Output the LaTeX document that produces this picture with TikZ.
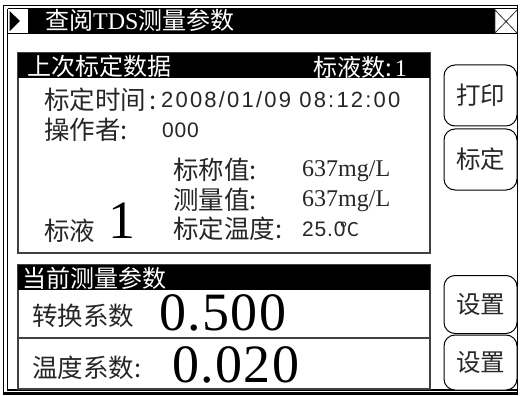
\documentclass[tikz,border=0pt]{standalone}
\usepackage{fontspec}
\setmainfont{Liberation Sans}
\newfontfamily\cjk{Noto Sans CJK SC}
\newfontfamily\serifnum{Liberation Serif}
\newfontfamily\spaced[LetterSpace=4]{Liberation Sans}
\newfontfamily\wide[LetterSpace=10]{Liberation Sans}
\newfontfamily\bigserif[LetterSpace=2.5]{Liberation Serif}
\tikzset{
  frameline/.style={draw=black,line width=1.2pt},
  panel/.style={draw=black!75,line width=1.2pt,fill=white},
  zh/.style={font=\cjk\fontsize{#1}{#1}\selectfont,inner sep=0pt,anchor=west,text=black!85},
  zh/.default=25.5,
  zhw/.style={font=\cjk\fontsize{#1}{#1}\selectfont,inner sep=0pt,anchor=west,text=white},
  zhw/.default=24,
  val/.style={font=\serifnum\fontsize{24}{24}\selectfont,inner sep=0pt,anchor=west,text=black!85},
  dt/.style={font=\spaced\fontsize{21}{21}\selectfont,inner sep=0pt,anchor=west,text=black!85},
  dtw/.style={font=\wide\fontsize{22}{22}\selectfont,inner sep=0pt,anchor=west,text=black!85},
  big/.style={font=\bigserif\fontsize{#1}{#1}\selectfont,inner sep=0pt,anchor=west},
  btn/.style={draw=black,line width=1pt,rounded corners=11pt,fill=white,minimum width=73pt,inner sep=0pt,font=\cjk\fontsize{24.5}{24.5}\selectfont,text=black!85}
}
\begin{document}
\begin{tikzpicture}[x=1pt,y=-1pt]
\useasboundingbox (0,0) rectangle (520,396);
\fill[white] (0,0) rectangle (520,396);
% outer frames
\draw[frameline,line width=1.4pt] (3.5,393) -- (3.5,5.5) -- (517.5,5.5) -- (517.5,393);
\draw[frameline] (7.5,9) -- (7.5,390) -- (517,390);
\draw[black,line width=2.4pt] (2.5,393.5) -- (518,393.5);
% title bar
\fill[black] (28,9) rectangle (495,33);
\draw[frameline,line width=.8pt] (7.5,8.5) -- (517,8.5);
\draw[black,line width=.8pt] (7.5,33.5) -- (517,33.5);
\fill[black] (9.5,11) -- (20,21) -- (9.5,31.5) -- cycle;
\node[zhw] (title) at (45,20) {查阅{\serifnum TDS}测量参数};
% X box
\coordinate (xa) at (495,10);
\coordinate (xb) at (517,33);
\coordinate (xc) at (495,33);
\coordinate (xd) at (517,10);
\draw[black!80,line width=.8pt] (xa) -- (xb) (xc) -- (xd) (495,9) -- (495,33);
% upper panel
\draw[panel] (18,53) rectangle (430,253);
\fill[black] (18,53) rectangle (430,78);
\node[zhw] (head1) at (27,66) {上次标定数据};
\node[zhw] (count) at (313,67) {标液数:\hspace{3pt}{\serifnum 1}};
\node[zh] (caltime) at (44,100) {标定时间\hspace{3pt}:};
\node[dtw] (date) at (161,100) {2008/01/09 08:12:00};
\node[zh] (oper) at (44,130) {操作者:};
\node[dt] (opval) at (162,130) {000};
\node[zh] (nom) at (173,170) {标称值:};
\node[val] (nomv) at (302,171) {637mg/L};
\node[zh] (meas) at (173,200) {测量值:};
\node[val] (measv) at (302,201) {637mg/L};
\node[zh] (temp) at (173,229) {标定温度:};
\node[dt] (tempv) at (302,229) {25.0\hspace{-5pt}{\cjk\fontsize{19}{19}\selectfont ℃}};
\node[zh] (std) at (44,231) {标液};
\node[big=54] (stdn) at (108,221) {1};
% lower panel
\draw[panel] (18,265) rectangle (430,389);
\fill[black] (18,265) rectangle (430,290);
\draw[panel,fill=none] (18,338) -- (430,338);
\node[zhw] (head2) at (22,278) {当前测量参数};
\node[zh] (conv) at (32,316) {转换系数};
\node[big=54] (convv) at (159,313) {0.500};
\node[zh] (tc) at (32,368) {温度系数:};
\node[big=54] (tcv) at (172,365) {0.020};
% buttons
\node[btn,minimum height=61pt] (print) at (480.5,95.5) {\raisebox{-2pt}{打印}};
\node[btn,minimum height=61pt] (cal) at (480.5,159.5) {标定};
\node[btn,minimum height=58pt] (set1) at (480.5,304.5) {\raisebox{-3.5pt}{设置}};
\node[btn,minimum height=55pt] (set2) at (480.5,362.5) {\raisebox{-3.5pt}{设置}};
\end{tikzpicture}
\end{document}
